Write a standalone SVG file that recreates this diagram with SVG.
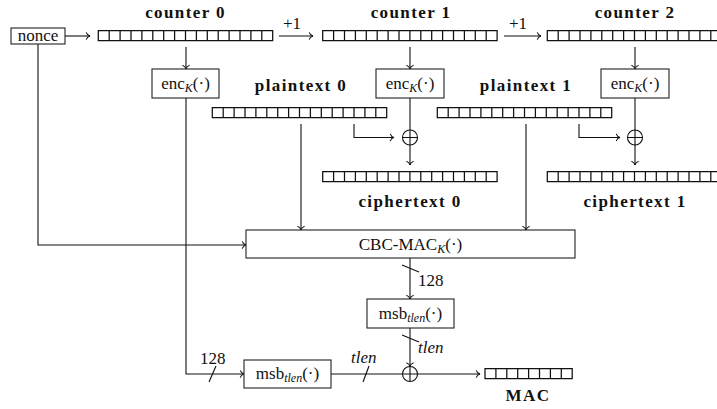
<svg xmlns="http://www.w3.org/2000/svg" xmlns:xlink="http://www.w3.org/1999/xlink" width="717" height="409" viewBox="0 0 717 409">
  <style>
    .ln { fill: none; stroke: #111; stroke-width: 1.1; }
    .arr { marker-end: url(#tip); }
    .box { fill: #fff; stroke: #222; stroke-width: 1.1; }
    .reg { fill: #fff; stroke: #111; stroke-width: 1.25; }
    text { font-family: "Liberation Serif", serif; font-size: 17px; fill: #111; }
    .b { font-weight: bold; letter-spacing: 1.4px; text-anchor: middle; }
    .i { font-style: italic; }
    .sub { font-size: 12px; font-style: italic; }
    .mid { text-anchor: middle; }
  </style>
  <defs>
    <marker id="tip" markerUnits="userSpaceOnUse" viewBox="-5 -5 6 10" refX="0" refY="0" markerWidth="6" markerHeight="10" orient="auto" overflow="visible">
      <path d="M-3.8,-3.6 C-3,-1.4 -1.3,-0.3 0,0 C-1.3,0.3 -3,1.4 -3.8,3.6" fill="none" stroke="#111" stroke-width="1.05"/>
    </marker>
    <!-- 16-cell register -->
    <path id="reg16" class="reg" d="M0,0h174.4v10h-174.4z M10.9,0v10 M21.8,0v10 M32.7,0v10 M43.6,0v10 M54.5,0v10 M65.4,0v10 M76.3,0v10 M87.2,0v10 M98.1,0v10 M109,0v10 M119.9,0v10 M130.8,0v10 M141.7,0v10 M152.6,0v10 M163.5,0v10"/>
    <!-- 8-cell register -->
    <path id="reg8" class="reg" d="M0,0h87.2v10h-87.2z M10.9,0v10 M21.8,0v10 M32.7,0v10 M43.6,0v10 M54.5,0v10 M65.4,0v10 M76.3,0v10"/>
    <!-- xor symbol -->
    <g id="xor" class="ln">
      <circle cx="0" cy="0" r="7.5"/>
      <path d="M-7.5,0h15M0,-7.5v15"/>
    </g>
  </defs>

  <!-- connectors -->
  <g id="connectors">
    <path class="ln arr" d="M65,36H90"/>
    <path class="ln arr" d="M279,36H313"/>
    <path class="ln arr" d="M504,36H541"/>
    <path class="ln arr" d="M186,47V69"/>
    <path class="ln arr" d="M410,47V69"/>
    <path class="ln arr" d="M635,47V69"/>
    <path class="ln" d="M410,98V130"/>
    <path class="ln" d="M635,98V130"/>
    <path class="ln arr" d="M410,145V165"/>
    <path class="ln arr" d="M635,145V165"/>
    <path class="ln arr" d="M354,124V137.5H394"/>
    <path class="ln arr" d="M579,124V137.5H620"/>
    <path class="ln arr" d="M301,124V230"/>
    <path class="ln arr" d="M526,124V230"/>
    <path class="ln arr" d="M38,44V245H246"/>
    <path class="ln arr" d="M186,98V374H244"/>
    <path class="ln arr" d="M410,258V299"/>
    <path class="ln arr" d="M410,328V366.5"/>
    <path class="ln" d="M331,374H402.5"/>
    <path class="ln arr" d="M417.5,374H480"/>
    <!-- width marks -->
    <path class="ln" d="M402,265L419,272"/>
    <path class="ln" d="M402,335L419,342"/>
    <path class="ln" d="M209,382L216,366"/>
    <path class="ln" d="M363,382L369,366"/>
  </g>
  <g id="width-labels">
    <text x="418" y="286">128</text>
    <text x="418" y="353" class="i">tlen</text>
    <text x="200" y="364">128</text>
    <text x="351" y="363" class="i">tlen</text>
    <text x="292" y="29" class="mid">+1</text>
    <text x="518" y="29" class="mid">+1</text>
  </g>

  <g id="nonce">
    <rect class="box" x="11" y="28" width="54" height="16"/>
    <text class="mid" x="38" y="41">nonce</text>
  </g>

  <g id="counter0">
    <text class="b" x="185.5" y="18">counter 0</text>
    <use xlink:href="#reg16" x="98.3" y="30.5"/>
  </g>
  <g id="counter1">
    <text class="b" x="411" y="18">counter 1</text>
    <use xlink:href="#reg16" x="322.7" y="30.5"/>
  </g>
  <g id="counter2">
    <text class="b" x="635" y="18">counter 2</text>
    <use xlink:href="#reg16" x="547.3" y="30.5"/>
  </g>

  <g id="enc0">
    <rect class="box" x="152" y="69" width="67" height="29"/>
    <text class="mid" x="185.5" y="89">enc<tspan class="sub" dy="3">K</tspan><tspan dy="-3">(·)</tspan></text>
  </g>
  <g id="enc1">
    <rect class="box" x="376" y="69" width="68" height="29"/>
    <text class="mid" x="410" y="89">enc<tspan class="sub" dy="3">K</tspan><tspan dy="-3">(·)</tspan></text>
  </g>
  <g id="enc2">
    <rect class="box" x="601" y="69" width="68" height="29"/>
    <text class="mid" x="635" y="89">enc<tspan class="sub" dy="3">K</tspan><tspan dy="-3">(·)</tspan></text>
  </g>

  <g id="plaintext0">
    <text class="b" x="301" y="91">plaintext 0</text>
    <use xlink:href="#reg16" x="212.3" y="107.5"/>
  </g>
  <g id="plaintext1">
    <text class="b" x="526" y="91">plaintext 1</text>
    <use xlink:href="#reg16" x="437.3" y="107.5"/>
  </g>

  <g id="xor0"><use xlink:href="#xor" x="410" y="137.5"/></g>
  <g id="xor1"><use xlink:href="#xor" x="635" y="137.5"/></g>

  <g id="ciphertext0">
    <use xlink:href="#reg16" x="322.7" y="171.7"/>
    <text class="b" x="410" y="207">ciphertext 0</text>
  </g>
  <g id="ciphertext1">
    <use xlink:href="#reg16" x="547.3" y="171.7"/>
    <text class="b" x="635" y="207">ciphertext 1</text>
  </g>

  <g id="cbcmac">
    <rect class="box" x="246" y="230" width="329" height="28"/>
    <text class="mid" x="410.5" y="250">CBC-MAC<tspan class="sub" dy="3">K</tspan><tspan dy="-3">(·)</tspan></text>
  </g>

  <g id="msb-upper">
    <rect class="box" x="367" y="299" width="87" height="29"/>
    <text class="mid" x="410.5" y="319">msb<tspan class="sub" dy="3">tlen</tspan><tspan dy="-3">(·)</tspan></text>
  </g>
  <g id="msb-lower">
    <rect class="box" x="244" y="360" width="87" height="28"/>
    <text class="mid" x="287.5" y="379">msb<tspan class="sub" dy="3">tlen</tspan><tspan dy="-3">(·)</tspan></text>
  </g>

  <g id="xor-final"><use xlink:href="#xor" x="410" y="374"/></g>

  <g id="mac">
    <use xlink:href="#reg8" x="485" y="368.5"/>
    <text class="b" x="528" y="401">MAC</text>
  </g>
</svg>
